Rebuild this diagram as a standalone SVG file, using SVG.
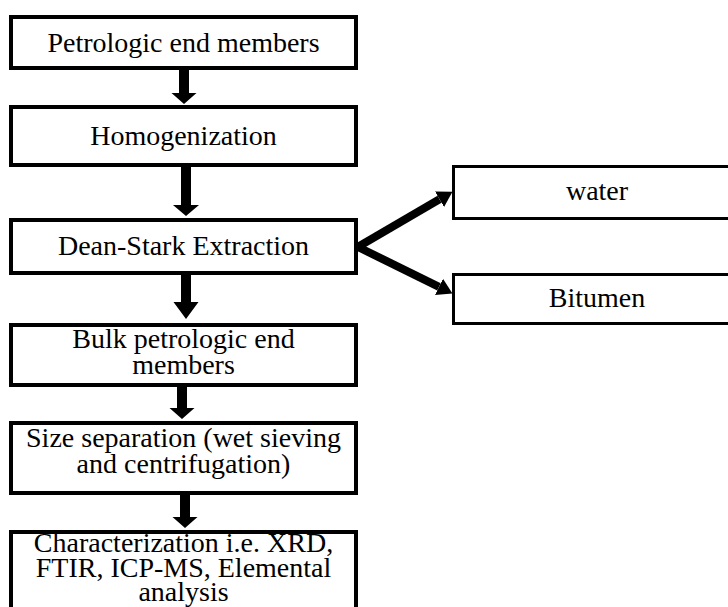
<svg xmlns="http://www.w3.org/2000/svg" width="728" height="607" viewBox="0 0 728 607">
<style>
.box{fill:#fff;stroke:#000;stroke-width:4}
.sbox{fill:#fff;stroke:#000;stroke-width:3}
.t{font-family:'Liberation Serif','Times New Roman',Times,'DejaVu Serif',serif;font-size:28px;fill:#000;text-anchor:middle}
.arr{fill:#000;stroke:none}
.diag{stroke:#000;stroke-width:8;fill:none}
</style>
<defs>
<marker id="head" markerUnits="userSpaceOnUse" markerWidth="15" markerHeight="18" refX="0" refY="9" orient="auto">
<path d="M0,0 L15,9 L0,18 Z" fill="#000"/>
</marker>
</defs>
<rect width="728" height="607" fill="#fff"/>
<g id="n1"><rect class="box" x="11" y="17" width="345" height="51"/><text class="t" font-family="Liberation Serif, serif" x="183.5" y="52">Petrologic end members</text></g>
<g id="n2"><rect class="box" x="11" y="107" width="345" height="58"/><text class="t" font-family="Liberation Serif, serif" x="183.5" y="145">Homogenization</text></g>
<g id="n3"><rect class="box" x="11" y="220" width="345" height="53"/><text class="t" font-family="Liberation Serif, serif" x="183.5" y="255">Dean-Stark Extraction</text></g>
<g id="n4"><rect class="box" x="11" y="325" width="345" height="60"/><text class="t" font-family="Liberation Serif, serif" x="183.5" y="348">Bulk petrologic end</text><text class="t" font-family="Liberation Serif, serif" x="183.5" y="374">members</text></g>
<g id="n5"><rect class="box" x="11" y="423" width="345" height="70"/><text class="t" font-family="Liberation Serif, serif" x="183.5" y="447">Size separation (wet sieving</text><text class="t" font-family="Liberation Serif, serif" x="183.5" y="473">and centrifugation)</text></g>
<g id="n6"><rect class="box" x="11" y="532" width="345" height="80"/><text class="t" font-family="Liberation Serif, serif" x="183.5" y="552">Characterization i.e. XRD,</text><text class="t" font-family="Liberation Serif, serif" x="183.5" y="577">FTIR, ICP-MS, Elemental</text><text class="t" font-family="Liberation Serif, serif" x="183.5" y="601">analysis</text></g>
<g id="n7"><rect class="sbox" x="453.5" y="166.5" width="300" height="52"/><text class="t" font-family="Liberation Serif, serif" x="597" y="200">water</text></g>
<g id="n8"><rect class="sbox" x="453.5" y="274.5" width="300" height="49"/><text class="t" font-family="Liberation Serif, serif" x="597" y="307">Bitumen</text></g>
<g id="connectors">
<path class="arr" d="M179,70 L189,70 L189,93 L196.5,93 L184,104 L171.5,93 L179,93 Z"/>
<path class="arr" d="M181,167 L191,167 L191,205 L199,205 L186,216 L173,205 L181,205 Z"/>
<path class="arr" d="M181,275 L191,275 L191,302 L198.5,302 L186,319 L173.5,302 L181,302 Z"/>
<path class="arr" d="M177,386 L187,386 L187,408 L194.5,408 L182,419 L169.5,408 L177,408 Z"/>
<path class="arr" d="M180,495 L190,495 L190,517 L197.5,517 L185,528 L172.5,517 L180,517 Z"/>
<line class="diag" x1="356" y1="248" x2="439.5" y2="199.3" marker-end="url(#head)"/>
<line class="diag" x1="356" y1="246" x2="439" y2="286.8" marker-end="url(#head)"/>
</g>
</svg>
